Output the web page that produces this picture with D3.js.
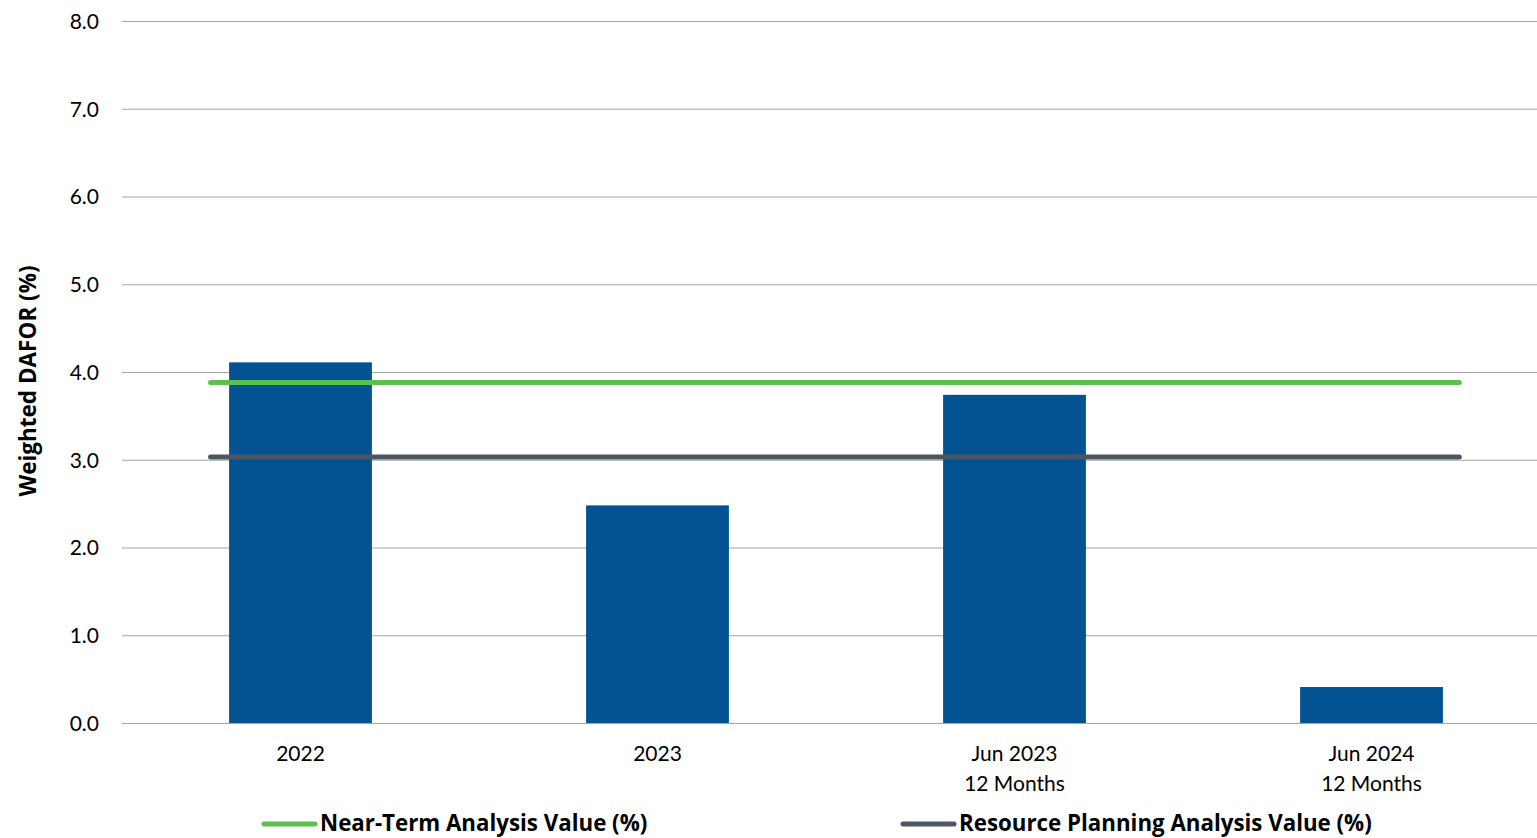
<!DOCTYPE html>
<html>
<head>
<meta charset="utf-8">
<script src="https://cdn.jsdelivr.net/npm/d3@7"></script>
<style>
  html, body { margin: 0; padding: 0; background: #fff; overflow: hidden; }
  svg { display: block; font-family: Lato, "Open Sans", sans-serif; }
  .bold { font-family: "Open Sans", Lato, sans-serif; font-weight: bold; }
</style>
</head>
<body>
<svg id="chart" width="1537" height="838"></svg>
<script>
// Weighted DAFOR by period, with two reference values
const categories = [["2022"], ["2023"], ["Jun 2023", "12 Months"], ["Jun 2024", "12 Months"]];
const dafor = [4.11, 2.48, 3.74, 0.41];
const nearTermValue = 3.88;
const resourcePlanningValue = 3.03;
const yTicks = [0, 1, 2, 3, 4, 5, 6, 7, 8];
const legendLabels = ["Near-Term Analysis Value (%)", "Resource Planning Analysis Value (%)"];

const svg = d3.select("#chart");
const margin = { left: 122, top: 21, bottom: 723, right: 1550 };

const x = d3.scaleBand()
  .domain(categories.map((d, i) => i))
  .range([margin.left, margin.right])
  .paddingInner(0.6)
  .paddingOuter(0.3);

const y = d3.scaleLinear().domain([0, 8]).range([margin.bottom, margin.top]);

// gridlines + y labels
const yAxis = d3.axisLeft(y)
  .tickValues(yTicks)
  .tickFormat(d3.format(".1f"))
  .tickSize(-(1537 - margin.left))
  .tickPadding(23);

const gy = svg.append("g").attr("transform", `translate(${margin.left},0)`).call(yAxis)
  .attr("font-family", null).attr("font-size", null);
gy.select(".domain").remove();
gy.selectAll(".tick line").attr("stroke", "#a6a6a6").attr("stroke-width", 1);
gy.selectAll(".tick text")
  .attr("fill", "#000")
  .style("font-size", "21px")
  .attr("dy", "0.35em");

// bars
svg.append("g").selectAll("rect")
  .data(dafor)
  .join("rect")
  .attr("x", (d, i) => x(i))
  .attr("y", d => y(d))
  .attr("width", x.bandwidth())
  .attr("height", d => y(0) - y(d))
  .attr("fill", "#035393");

// reference lines
const lineStart = x(0) + x.bandwidth() / 2 - x.step() * 0.252;
const lineEnd = x(3) + x.bandwidth() / 2 + x.step() * 0.246;
[[resourcePlanningValue, "#4d5562"], [nearTermValue, "#5cc04e"]].forEach(([v, c]) => {
  svg.append("line")
    .attr("x1", lineStart).attr("x2", lineEnd)
    .attr("y1", y(v)).attr("y2", y(v))
    .attr("stroke", c)
    .attr("stroke-width", 5)
    .attr("stroke-linecap", "round");
});

// category labels
const gx = svg.append("g");
categories.forEach((lines, i) => {
  const t = gx.append("text")
    .attr("x", x(i) + x.bandwidth() / 2)
    .attr("text-anchor", "middle")
    .attr("fill", "#000")
    .style("font-size", "21px");
  lines.forEach((ln, j) => {
    t.append("tspan")
      .attr("x", x(i) + x.bandwidth() / 2)
      .attr("y", 761 + j * 30)
      .text(ln);
  });
});

// y axis title
svg.append("text")
  .attr("class", "bold")
  .attr("transform", "translate(36,381) rotate(-90)")
  .attr("text-anchor", "middle")
  .style("font-size", "22.5px")
  .attr("fill", "#000")
  .text("Weighted DAFOR (%)");

// legend
const legend = [
  { label: legendLabels[0], color: "#5cc04e", x0: 264 },
  { label: legendLabels[1], color: "#4d5562", x0: 903 }
];
legend.forEach(l => {
  svg.append("line")
    .attr("x1", l.x0).attr("x2", l.x0 + 51)
    .attr("y1", 824).attr("y2", 824)
    .attr("stroke", l.color)
    .attr("stroke-width", 5)
    .attr("stroke-linecap", "round");
  svg.append("text")
    .attr("class", "bold")
    .attr("x", l.x0 + 56)
    .attr("y", 831)
    .style("font-size", "22.3px")
    .attr("fill", "#000")
    .text(l.label);
});
</script>
</body>
</html>
